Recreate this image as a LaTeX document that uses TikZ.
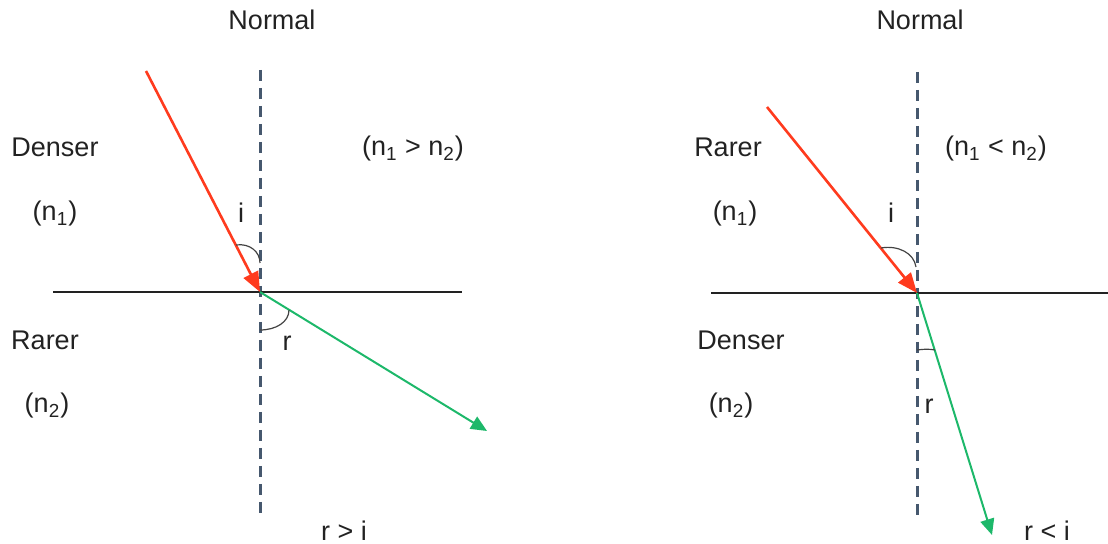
\documentclass[tikz,border=0pt]{standalone}
\usepackage{fontspec}
\setmainfont{Liberation Sans}
\usetikzlibrary{arrows.meta}
\definecolor{ray}{HTML}{FF3B1E}
\definecolor{refr}{HTML}{1DB86A}
\definecolor{normal}{HTML}{46586E}
\definecolor{ink}{HTML}{222222}

\tikzset{
  lbl/.style={font=\fontsize{13.5}{16}\selectfont, text=ink, inner sep=0pt},
  normalline/.style={normal, line width=1.5pt, dash pattern=on 5.5pt off 3.5pt},
  surface/.style={ink, line width=1pt},
  incident/.style={ray, line width=1.3pt, -{Triangle[length=10pt,width=8pt]}},
  refracted/.style={refr, line width=1pt, -{Triangle[length=8pt,width=7pt]}},
  anglemark/.style={ink!85, line width=0.6pt},
}

\begin{document}
\begin{tikzpicture}[x=0.5pt, y=-0.5pt]
  \useasboundingbox (0,0) rectangle (1108,544);

  % denser to rarer
  \coordinate (Lo) at (260,292);
  \coordinate (Ltop) at (260,70);
  \coordinate (Lbot) at (260,517);
  \coordinate (Lsrc) at (146,71);
  \coordinate (Ldst) at (487,431);
  \coordinate (Lwest) at (53,292);
  \coordinate (Least) at (462,292);
  \draw[normalline] (Ltop) -- (Lbot);
  \draw[surface] (Lwest) -- (Least);
  \draw[incident] (Lsrc) -- (Lo);
  \draw[refracted] (Lo) -- (Ldst);
  \draw[anglemark] (236,245) .. controls (250,243) and (260,252) .. (260,263);
  \draw[anglemark] (260,330) .. controls (276,330) and (289,322) .. (289,310);

  \node[lbl] (Lnormal) at (272,20) {Normal};
  \node[lbl] (Lmed1) at (55,147) {Denser};
  \node[lbl] (Ln1) at (55,214) {(n\textsubscript{1})};
  \node[lbl] (Lmed2) at (45,340) {Rarer};
  \node[lbl] (Ln2) at (47,406) {(n\textsubscript{2})};
  \node[lbl] (Lcmp) at (413,149) {(n\textsubscript{1} > n\textsubscript{2})};
  \node[lbl] (Li) at (241,213) {i};
  \node[lbl] (Lr) at (287,343) {r};
  \node[lbl] (Lres) at (344,531) {r > i};

  % rarer to denser
  \coordinate (Ro) at (917,293);
  \coordinate (Rtop) at (917,72);
  \coordinate (Rbot) at (917,519);
  \coordinate (Rsrc) at (767,107);
  \coordinate (Rdst) at (992,535);
  \coordinate (Rwest) at (711,293);
  \coordinate (Reast) at (1108,293);
  \draw[normalline] (Rtop) -- (Rbot);
  \draw[surface] (Rwest) -- (Reast);
  \draw[incident] (Rsrc) -- (Ro);
  \draw[refracted] (Ro) -- (Rdst);
  \draw[anglemark] (881,248) .. controls (898,245) and (914,253) .. (916,267);
  \draw[anglemark] (917,350) .. controls (924,349) and (930,349) .. (935,350);

  \node[lbl] (Rnormal) at (920,20) {Normal};
  \node[lbl] (Rmed1) at (728,147) {Rarer};
  \node[lbl] (Rn1) at (735,214) {(n\textsubscript{1})};
  \node[lbl] (Rmed2) at (741,340) {Denser};
  \node[lbl] (Rn2) at (731,406) {(n\textsubscript{2})};
  \node[lbl] (Rcmp) at (996,149) {(n\textsubscript{1} < n\textsubscript{2})};
  \node[lbl] (Ri) at (891,213) {i};
  \node[lbl] (Rr) at (929,406) {r};
  \node[lbl] (Rres) at (1047,531) {r < i};
\end{tikzpicture}
\end{document}
